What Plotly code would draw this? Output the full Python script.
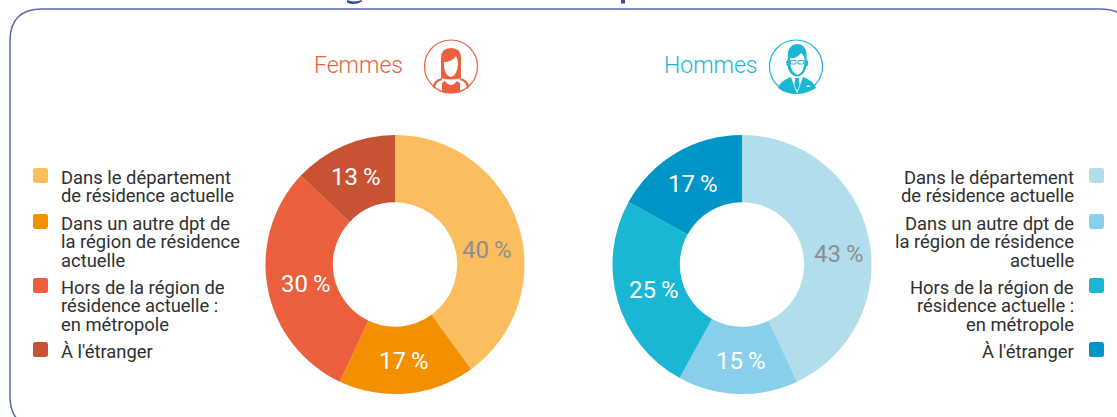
import re
import plotly.graph_objects as go

W, H = 1117, 417
FONT = "Roboto"
categories_lines = [
    ["Dans le département", "de résidence actuelle"],
    ["Dans un autre dpt de", "la région de résidence", "actuelle"],
    ["Hors de la région de", "résidence actuelle :", "en métropole"],
    ["À l'étranger"],
]
categories = [" ".join(c) for c in categories_lines]
femmes_values = [40, 17, 30, 13]
hommes_values = [43, 15, 25, 17]
femmes_colors = ["#FBBD5E", "#F29000", "#EB5F3D", "#C85234"]
hommes_colors = ["#B2DDEB", "#87CFEA", "#1AB7D5", "#0095C7"]
femmes_text_colors = ["#8C8E90", "#FFFFFF", "#FFFFFF", "#FFFFFF"]
hommes_text_colors = ["#8C8E90", "#FFFFFF", "#FFFFFF", "#FFFFFF"]
line_ys = [[177, 196], [223, 242, 260], [287, 305, 324], [351]]
swatch_tops = [168, 214, 278, 342]
femmes_label_xy = [(486, 250), (403, 361), (305, 284), (355, 177)]
hommes_label_xy = [(838, 254), (740, 361), (653, 290), (693, 184)]


def fx(x):
    return x / W


def fy(y):
    return 1 - y / H


def path(svg):
    """Convert an absolute M/L/C/Q/Z path given in page pixels to paper units."""
    nums = iter(range(10**6))

    def rep(m):
        v = float(m.group(0))
        return f"{fx(v):.5f}" if next(nums) % 2 == 0 else f"{fy(v):.5f}"

    return re.sub(r"-?\d+\.?\d*", rep, svg)


def shp(svg, fill=None, line=None, lw=0):
    d = dict(type="path", xref="paper", yref="paper", path=path(svg), layer="above")
    d["fillcolor"] = fill if fill else "rgba(0,0,0,0)"
    d["line"] = dict(color=line if line else "rgba(0,0,0,0)", width=lw)
    return d


def ellipse(cx, cy, rx, ry=None, fill=None, line=None, lw=0):
    ry = rx if ry is None else ry
    return dict(type="circle", xref="paper", yref="paper", layer="above",
                x0=fx(cx - rx), x1=fx(cx + rx), y0=fy(cy + ry), y1=fy(cy - ry),
                fillcolor=fill if fill else "rgba(0,0,0,0)",
                line=dict(color=line if line else "rgba(0,0,0,0)", width=lw))


def rrect(x0, y0, x1, y1, r):
    return (f"M{x0 + r} {y0} L{x1 - r} {y0} Q{x1} {y0} {x1} {y0 + r} "
            f"L{x1} {y1 - r} Q{x1} {y1} {x1 - r} {y1} L{x0 + r} {y1} "
            f"Q{x0} {y1} {x0} {y1 - r} L{x0} {y0 + r} Q{x0} {y0} {x0 + r} {y0} Z")


def pie(values, colors, cx, cy, r):
    return go.Pie(
        labels=categories, values=values, sort=False, direction="clockwise", rotation=0,
        hole=0.48, marker=dict(colors=colors, line=dict(width=0)),
        textinfo="none",
        domain=dict(x=[fx(cx - r), fx(cx + r)], y=[fy(cy + r), fy(cy - r)]),
        showlegend=False, hoverinfo="label+percent",
    )


fig = go.Figure()
fig.add_trace(pie(femmes_values, femmes_colors, 395, 264.5, 129.5))
fig.add_trace(pie(hommes_values, hommes_colors, 742, 264.5, 129.5))

shapes = [shp(rrect(10, 9, 1132, 428, 32), line="#5B68AE", lw=1.5)]
annotations = []


def text(x, y, s, size, color, anchor="left", weight=None, va="middle"):
    annotations.append(dict(x=fx(x), y=fy(y), xref="paper", yref="paper", text=s, showarrow=False,
                            xanchor=anchor, yanchor=va, borderpad=0, borderwidth=0,
                            font=dict(family=FONT, size=size, color=color, weight=weight or 400)))


for values, colors_, xy in ((femmes_values, femmes_text_colors, femmes_label_xy),
                            (hommes_values, hommes_text_colors, hommes_label_xy)):
    for v, c, (x, y) in zip(values, colors_, xy):
        text(x, y, f"{v}\u2009%", 24, c, anchor="center")

for lines, ys, top, c in zip(categories_lines, line_ys, swatch_tops, femmes_colors):
    shapes.append(shp(rrect(33, top, 48, top + 15, 2.5), fill=c))
    for s, y in zip(lines, ys):
        text(61, y, s, 18.4, "#2F2F2F")
for lines, ys, top, c in zip(categories_lines, line_ys, swatch_tops, hommes_colors):
    shapes.append(shp(rrect(1089, top, 1104, top + 15, 2.5), fill=c))
    for s, y in zip(lines, ys):
        text(1074, y, s, 18.4, "#2F2F2F", anchor="right")

ORANGE, CYAN = "#EC6040", "#1AB7D5"
text(314, 65, "Femmes", 23, ORANGE, weight=300)
text(664, 65, "Hommes", 23, CYAN, weight=300)

# Descender fragments of the cropped heading above the frame
NAVY = "#3A4A9F"
shapes += [
    shp("M347 0 Q354 3 362 0 L362 1.5 Q354 6 347 2.5 Z", fill=NAVY),
    shp("M621 0 L625 0 L625 3.5 L621 3.5 Z", fill=NAVY),
]

# Femmes icon
shapes += [
    ellipse(451, 66.5, 26.5, line=ORANGE, lw=1.2),
    shp("M441 78 L441 58 Q441 48 451 48 Q461 48 461 58 L461 78 Q451 81 441 78 Z", fill=ORANGE),
    shp("M444 62 Q452 62 456 56 Q458 60 458 64 Q457 76 451 77 Q445 76 444 66 Z", fill="#FFFFFF"),
    shp("M442 92 L442 83 L445 81 Q451 89 457 81 L460 83 L460 92 Q451 94.5 442 92 Z", fill=ORANGE),
    shp("M433 87 Q433 80 442 78 L442 80 Q435 82 435 89 Z", fill=ORANGE),
    shp("M469 87 Q469 80 460 78 L460 80 Q467 82 467 89 Z", fill=ORANGE),
]
# Hommes icon
shapes += [
    ellipse(796, 66.5, 26.5, line=CYAN, lw=1.2),
    ellipse(788.5, 63, 2.2, 3.5, fill=CYAN),
    ellipse(806, 63, 2.2, 3.5, fill=CYAN),
    ellipse(797, 64, 9.5, 12.5, fill=CYAN),
    shp("M788 60 Q786 45 797.5 44 Q808 45 806.5 60 L804 58 L790 58 Z", fill=CYAN),
    shp("M790 58 Q797 59 801 53 Q804.5 55 804.5 60 Q805 72 797.5 75 Q790 72 790 60 Z", fill="#FFFFFF"),
    shp("M778 88 Q780 81 791 77 L797 94 L803 77 Q814 81 816 88 Q806 94 797 94 Q786 94 778 88 Z", fill=CYAN),
    shp("M795.3 78 L798.7 78 L799.6 85 L797 91 L794.4 85 Z", fill=CYAN),
    shp("M806 87 L808 85 L811 87 Z", fill="#FFFFFF"),
    shp("M790.5 60.5 L796 60.5 L796 64 L790.5 64 Z", fill="#FFFFFF", line=CYAN, lw=0.9),
    shp("M798 60.5 L803.5 60.5 L803.5 64 L798 64 Z", fill="#FFFFFF", line=CYAN, lw=0.9),
]

fig.update_layout(width=W, height=H, margin=dict(l=0, r=0, t=0, b=0), autosize=False,
                  paper_bgcolor="#FFFFFF", plot_bgcolor="#FFFFFF", shapes=shapes, annotations=annotations,
                  font=dict(family=FONT))
fig.write_html("out.html", config={"displayModeBar": False},
               post_script="document.body.style.margin='0';document.documentElement.style.overflow='hidden';")
